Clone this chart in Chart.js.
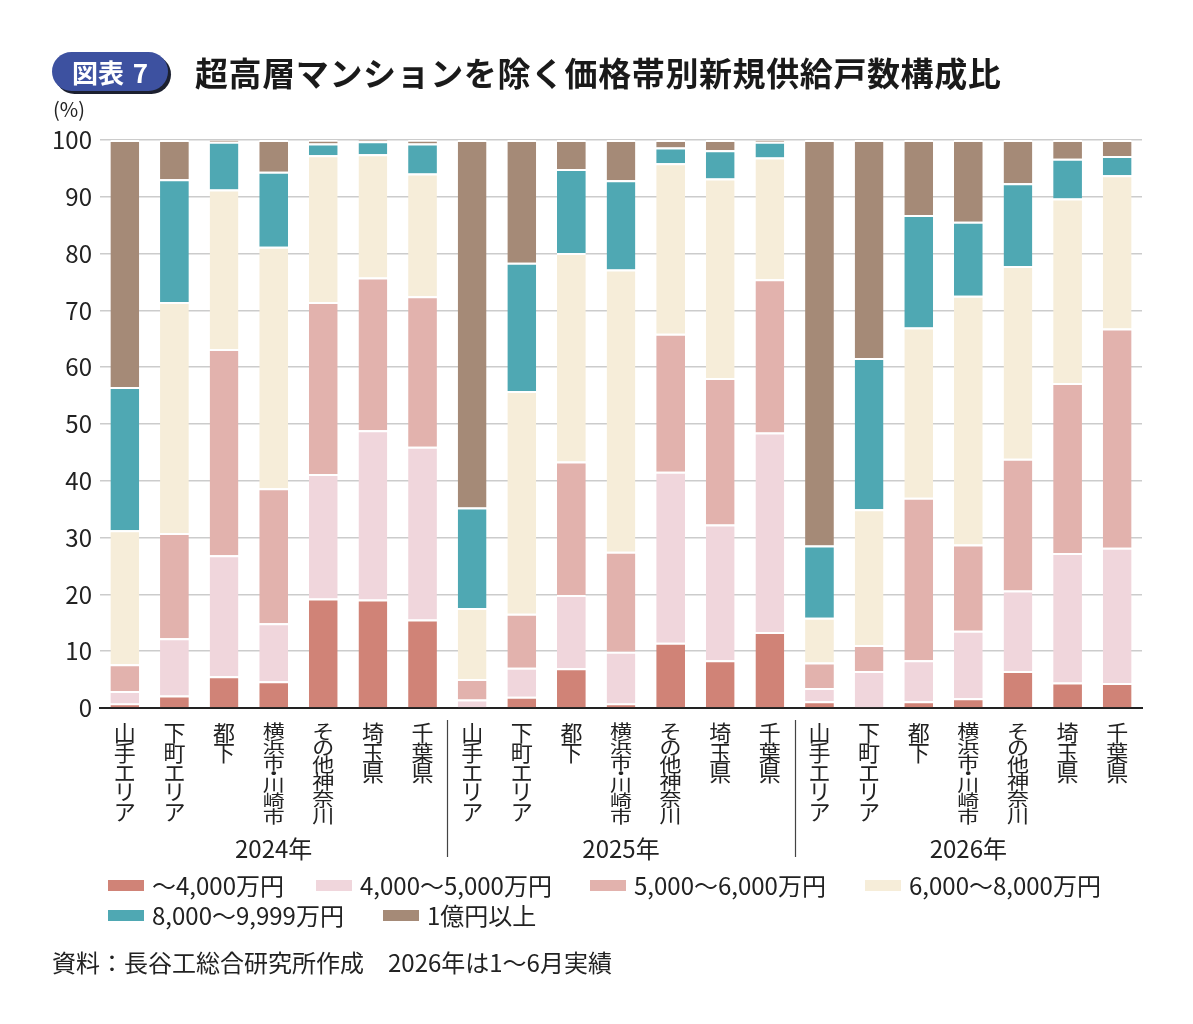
<!DOCTYPE html>
<html lang="ja">
<head>
<meta charset="utf-8">
<title>図表7 超高層マンションを除く価格帯別新規供給戸数構成比</title>
<script src="https://cdn.jsdelivr.net/npm/chart.js@4.4.1/dist/chart.umd.min.js"></script>
<style>
  html, body { margin: 0; padding: 0; background: #fff; }
  body { width: 1193px; height: 1024px; position: relative; overflow: hidden;
         font-family: "Noto Sans CJK JP", "Noto Sans", sans-serif; color: #222; }
  #chartBox { position: absolute; left: 0; top: 0; width: 1193px; height: 1024px; }
  .badge { position: absolute; left: 52px; top: 52px; width: 116px; height: 39px;
           background: #3d51a0; border-radius: 20px; box-shadow: 3px 3px 0 #1c2030;
           color: #fff; font-weight: 700; font-size: 26px; line-height: 39px; text-align: center;
           word-spacing: 3px; }
  .title { position: absolute; left: 195px; top: 50px; font-size: 33px; font-weight: 700;
           line-height: 44px; letter-spacing: 0.6px; color: #1a1a1a; }
  .unit { position: absolute; left: 53px; top: 96px; font-size: 20px; line-height: 26px; }
  .legend-item { position: absolute; display: flex; align-items: center; font-size: 24px;
                 line-height: 28px; white-space: nowrap; }
  .legend-item i { display: inline-block; width: 36px; height: 11px; margin-right: 8px; }
  .note { position: absolute; left: 52px; top: 948px; font-size: 24px; line-height: 28px; }
</style>
</head>
<body>
<div id="chartBox"><canvas id="chart"></canvas></div>
<div class="badge">図表 7</div>
<div class="title">超高層マンションを除く価格帯別新規供給戸数構成比</div>
<div class="unit">(%)</div>
<div id="legend"></div>
<div class="note">資料：長谷工総合研究所作成　2026年は1〜6月実績</div>

<script>
// ==== datos ====
const years = ["2024年", "2025年", "2026年"];
const regions = ["山手エリア", "下町エリア", "都下", "横浜市・川崎市", "その他神奈川", "埼玉県", "千葉県"];

const seriesNames = ["〜4,000万円", "4,000〜5,000万円", "5,000〜6,000万円", "6,000〜8,000万円", "8,000〜9,999万円", "1億円以上"];
const seriesColors = ["#d08377", "#f0d6dc", "#e2b2ad", "#f6edd9", "#4fa8b3", "#a58a77"];

// 21 barras: 2024 x7, 2025 x7, 2026 x7
const under4000 = [0.8, 2.2, 5.6, 4.7, 19.3, 19.1, 15.6,  0.0, 2.0, 7.0, 0.8, 11.5, 8.4, 13.4,  1.2, 0.0, 1.2, 1.7, 6.5, 4.5, 4.4];
const r4000_5000 = [2.2, 10.1, 21.3, 10.2, 21.9, 29.8, 30.4,  1.5, 5.1, 12.9, 9.1, 30.1, 23.9, 35.1,  2.3, 6.5, 7.2, 11.9, 14.2, 22.8, 23.8];
const r5000_6000 = [4.7, 18.5, 36.3, 23.8, 30.3, 26.9, 26.5,  3.6, 9.5, 23.5, 17.6, 24.3, 25.8, 27.0,  4.5, 4.6, 28.6, 15.2, 23.2, 29.9, 38.6];
const r6000_8000 = [23.6, 40.7, 28.1, 42.5, 25.8, 21.7, 21.6,  12.5, 39.2, 36.7, 49.7, 30.0, 35.1, 21.4,  7.9, 23.9, 30.0, 43.8, 33.9, 32.5, 27.0];
const r8000_9999 = [25.2, 21.6, 8.4, 13.2, 2.1, 2.3, 5.3,  17.7, 22.6, 14.8, 15.7, 2.8, 5.0, 2.8,  12.7, 26.6, 19.8, 13.0, 14.6, 7.0, 3.4];
const over1oku = [43.5, 6.9, 0.3, 5.6, 0.6, 0.2, 0.6,  64.7, 21.6, 5.1, 7.1, 1.3, 1.8, 0.3,  71.4, 38.4, 13.2, 14.4, 7.6, 3.3, 2.8];

const yTicks = [0, 10, 20, 30, 40, 50, 60, 70, 80, 90, 100];

const FONT = '"Noto Sans CJK JP", "Noto Sans", sans-serif';
const seriesData = [under4000, r4000_5000, r5000_6000, r6000_8000, r8000_9999, over1oku];
const labels = years.flatMap(() => regions);

// leyenda en HTML
const legendPos = [[108, 871], [316, 871], [590, 871], [865, 871], [108, 901], [383, 901]];
const legendEl = document.getElementById("legend");
seriesNames.forEach((name, i) => {
    const div = document.createElement("div");
    div.className = "legend-item";
    div.style.left = legendPos[i][0] + "px";
    div.style.top = legendPos[i][1] + "px";
    div.innerHTML = `<i style="background:${seriesColors[i]}"></i><span>${name}</span>`;
    legendEl.appendChild(div);
});

// texto vertical (una letra debajo de otra)
function drawVertical(ctx, text, cx, top, maxH) {
    const step = 19.6;
    const chars = Array.from(text);
    const units = chars.reduce((s, c) => s + (c === "・" ? 0.45 : 1), 0);
    const scale = Math.min(1, maxH / (units * step));
    ctx.save();
    ctx.translate(cx, top);
    ctx.scale(1, scale);
    let y = 0;
    for (const c of chars) {
        if (c === "・") {
            ctx.fillText("・", 0, y - 6);
            y += step * 0.45;
        } else {
            ctx.fillText(c, 0, y);
            y += step;
        }
    }
    ctx.restore();
}

const axisLabelsPlugin = {
    id: "axisLabels",
    afterDraw(chart) {
        const ctx = chart.ctx;
        const xs = chart.scales.x;
        ctx.save();
        ctx.fillStyle = "#222";
        ctx.textAlign = "center";
        ctx.textBaseline = "top";
        ctx.font = "22px " + FONT;
        labels.forEach((name, i) => {
            drawVertical(ctx, name, xs.getPixelForValue(i), 722, 101);
        });

        // años
        ctx.font = "24px " + FONT;
        ctx.textBaseline = "middle";
        years.forEach((yr, g) => {
            const a = xs.getPixelForValue(g * regions.length);
            const b = xs.getPixelForValue(g * regions.length + regions.length - 1);
            ctx.fillText(yr, (a + b) / 2, 849);
        });

        // separadores
        ctx.strokeStyle = "#444";
        ctx.lineWidth = 1.2;
        for (let g = 1; g < years.length; g++) {
            const sx = (xs.getPixelForValue(g * regions.length - 1) + xs.getPixelForValue(g * regions.length)) / 2;
            ctx.beginPath();
            ctx.moveTo(Math.round(sx) + 0.5, 720);
            ctx.lineTo(Math.round(sx) + 0.5, 857);
            ctx.stroke();
        }
        ctx.restore();
    }
};

new Chart(document.getElementById("chart"), {
    type: "bar",
    data: {
        labels: labels,
        datasets: seriesNames.map((name, i) => ({
            label: name,
            data: seriesData[i],
            backgroundColor: seriesColors[i],
            borderColor: "#ffffff",
            borderWidth: { top: 2, right: 0, bottom: 0, left: 0 },
            borderSkipped: false,
            barPercentage: 0.58,
            categoryPercentage: 1.0
        }))
    },
    options: {
        responsive: true,
        maintainAspectRatio: false,
        animation: false,
        devicePixelRatio: 1,
        layout: { padding: { top: 140, right: 51, bottom: 316, left: 0 } },
        plugins: {
            legend: { display: false },
            tooltip: { enabled: false }
        },
        scales: {
            x: {
                stacked: true,
                grid: { display: false },
                border: { display: true, color: "#222", width: 2 },
                ticks: { display: false },
                afterFit: (scale) => { scale.height = 0; }
            },
            y: {
                stacked: true,
                min: 0,
                max: 100,
                afterBuildTicks: (scale) => { scale.ticks = yTicks.map(v => ({ value: v })); },
                afterFit: (scale) => { scale.width = 100; },
                grid: { color: "#cccccc", lineWidth: 1.5, drawTicks: false },
                border: { display: false },
                ticks: {
                    padding: 8,
                    color: "#222",
                    font: { family: FONT, size: 24 }
                }
            }
        }
    },
    plugins: [axisLabelsPlugin]
});
</script>
</body>
</html>
